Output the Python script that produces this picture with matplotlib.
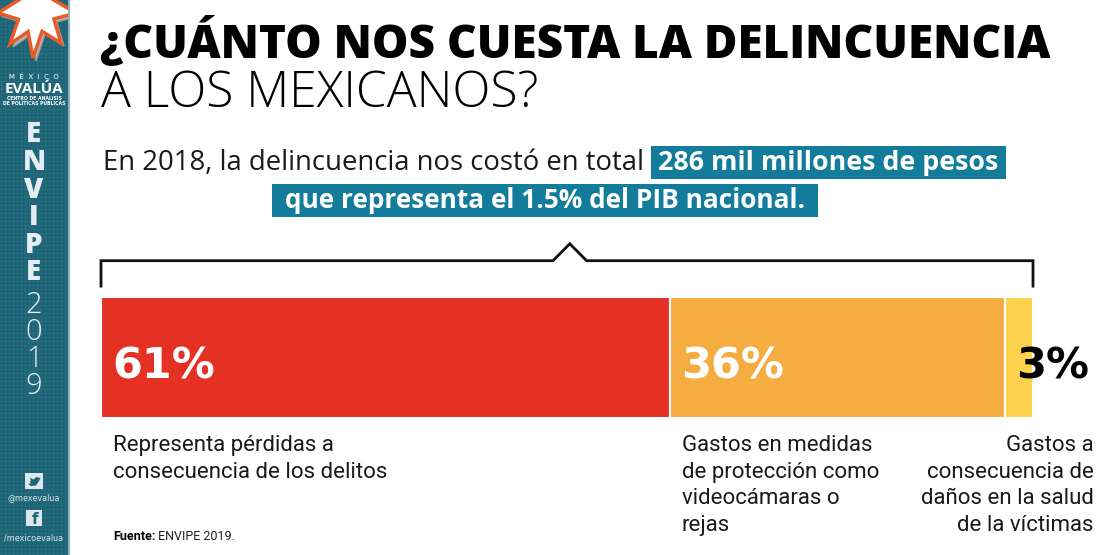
import matplotlib
matplotlib.use('Agg')
import matplotlib.pyplot as plt
import matplotlib.transforms as mtransforms
from matplotlib.patches import Rectangle, Polygon
import numpy as np

# ==========================
# Data
# ==========================
categories = ['Pérdidas por delitos', 'Medidas de protección', 'Daños a la salud']
shares = [61, 36, 3]
share_labels = ['61%', '36%', '3%']
descriptions = [
    'Representa pérdidas a\nconsecuencia de los delitos',
    'Gastos en medidas\nde protección como\nvideocámaras o\nrejas',
    'Gastos a\nconsecuencia de\ndaños en la salud\nde la víctimas',
]
bar_colors = ['#e53024', '#f5ad42', '#fcd24c']
label_colors = ['white', 'white', 'black']

title_1 = '¿CUÁNTO NOS CUESTA LA DELINCUENCIA'
title_2 = 'A LOS MEXICANOS?'
subtitle = 'En 2018, la delincuencia nos costó en total'
highlight_1 = '286 mil millones de pesos'
highlight_2 = 'que representa el 1.5% del PIB nacional.'
source_bold = 'Fuente:'
source_text = ' ENVIPE 2019.'

teal_side = '#1e6376'
teal_box = '#137c9b'

W, H = 1110, 555
fig = plt.figure(figsize=(W / 100, H / 100), dpi=100)
fig.set_facecolor('white')

# background axes in pixel coordinates (y grows downward)
bg = fig.add_axes([0, 0, 1, 1])
bg.set_xlim(0, W)
bg.set_ylim(H, 0)
bg.axis('off')

renderer = fig.canvas.get_renderer()


def fit_width(t, target):
    w = t.get_window_extent(renderer).width
    t.set_fontsize(t.get_fontsize() * target / w)


# ==========================
# Side bar
# ==========================
side_w = 68
pattern = np.zeros((H, side_w, 3))
pattern[:, :] = np.array([30, 99, 118]) / 255
pattern[1::4, :] = np.array([38, 108, 127]) / 255
pattern[:, 1::4] = np.array([38, 108, 127]) / 255
bg.imshow(pattern, extent=(0, side_w, H, 0), aspect='auto', zorder=1)
bg.plot([side_w + 0.5, side_w + 0.5], [0, H], color='#8db2bf', lw=1.5, zorder=2)

# star logo
cx, cy = 36, 8
tips = [(-2, 13), (10, 44), (33, 58), (61, 43), (76, 13), (58, -28), (14, -28)]
pts = []
for i, (tx, ty) in enumerate(tips):
    pts.append((tx, ty))
    nx, ny = tips[(i + 1) % len(tips)]
    mx, my = (tx + nx) / 2, (ty + ny) / 2
    pts.append((cx + (mx - cx) * 0.55, cy + (my - cy) * 0.55))
shadow = Polygon([(x + 3, y + 3) for x, y in pts], closed=True, fc='#b8b8b8', ec='#9a9a9a', lw=1, zorder=3)
star = Polygon(pts, closed=True, fc='white', ec='#ea5a24', lw=2.5, zorder=4)
clip = Rectangle((0, 0), side_w, 80, transform=bg.transData)
for p in (shadow, star):
    bg.add_patch(p)
    p.set_clip_path(clip)

bg.text(34, 77, 'M  É  X  I  C  O', color='white', fontsize=5, ha='center', va='center', zorder=5)
bg.text(34, 89, 'EVALÚA', color='white', fontsize=11, fontweight='bold', ha='center', va='center',
        family='Open Sans', zorder=5)
bg.text(34, 98, 'CENTRO DE ANÁLISIS', color='white', fontsize=3.3, fontweight='bold', ha='center',
        va='center', zorder=5)
bg.text(34, 103, 'DE POLÍTICAS PÚBLICAS', color='white', fontsize=3.3, fontweight='bold', ha='center',
        va='center', zorder=5)

side_letters = ['E', 'N', 'V', 'I', 'P', 'E']
for i, ch in enumerate(side_letters):
    bg.text(34, 135 + i * 27.6, ch, color='#e4eef2', fontsize=20, fontweight='heavy', ha='center',
            va='center', family='Open Sans', zorder=5)
for i, ch in enumerate('2019'):
    bg.text(34, 305 + i * 27, ch, color='#e4eef2', fontsize=21, fontweight='light', ha='center',
            va='center', family='Open Sans', zorder=5)

# twitter / facebook badges
bg.add_patch(Rectangle((25, 473), 18, 16, fc='#dce8ec', ec='none', zorder=5))
bird = [(28, 484), (31, 486), (36, 485.5), (39, 481), (40.5, 478), (38.5, 477.5), (36, 477),
        (34, 479.5), (30, 478), (31, 481), (29.5, 481.5), (31, 483.5)]
bg.add_patch(Polygon(bird, closed=True, fc=teal_side, ec='none', zorder=6))
bg.text(34, 498, '@mexevalua', color='#dce8ec', fontsize=5.8, ha='center', va='center', zorder=5)
bg.add_patch(Rectangle((26, 510), 16, 16, fc='#dce8ec', ec='none', zorder=5))
bg.text(35, 519, 'f', color=teal_side, fontsize=11, fontweight='bold', ha='center', va='center', zorder=6)
bg.text(34, 538, '/mexicoevalua', color='#dce8ec', fontsize=5.8, ha='center', va='center', zorder=5)

# ==========================
# Titles
# ==========================
t1 = bg.text(100, 58, title_1, fontsize=30, fontweight='heavy', family='Open Sans', color='black',
             va='baseline', ha='left')
fit_width(t1, 950)
t2 = bg.text(101, 107, title_2, fontsize=30, fontweight='light', family='Open Sans', color='black',
             va='baseline', ha='left')
fit_width(t2, 438)

st = bg.text(103, 170, subtitle, fontsize=15, family='Open Sans', color='#1a1a1a', va='baseline', ha='left')
fit_width(st, 542)

bg.add_patch(Rectangle((651, 146), 355, 33, fc=teal_box, ec='none'))
h1 = bg.text(828, 170, highlight_1, fontsize=16, fontweight='bold', family='Open Sans', color='white',
             va='baseline', ha='center')
fit_width(h1, 340)
bg.add_patch(Rectangle((272, 184), 546, 33, fc=teal_box, ec='none'))
h2 = bg.text(545, 208, highlight_2, fontsize=16, fontweight='bold', family='Open Sans', color='white',
             va='baseline', ha='center')
fit_width(h2, 521)

# ==========================
# Stacked bar
# ==========================
bar_left, bar_right, bar_top, bar_bottom = 101, 1033, 297, 418
ax = fig.add_axes([bar_left / W, 1 - bar_bottom / H, (bar_right - bar_left) / W, (bar_bottom - bar_top) / H])
ax.set_xlim(0, 100)
ax.set_ylim(-0.5, 0.5)
ax.axis('off')

lefts = np.concatenate([[0], np.cumsum(shares)[:-1]])
ax.barh(0, shares, left=lefts, height=1, color=bar_colors, edgecolor='white', linewidth=1.5)

for left, lab, col in zip(lefts, share_labels, label_colors):
    ax.text(left + 1.2, 0.33, lab, transform=ax.get_xaxis_transform(), color=col, fontsize=31,
            fontweight='bold', family='DejaVu Sans', va='baseline', ha='left', clip_on=False)

desc_x = [lefts[0] + 1.3, lefts[1] + 1.3, 106.5]
desc_ha = ['left', 'left', 'right']
for x, txt, ha in zip(desc_x, descriptions, desc_ha):
    ax.text(x, -0.14, txt, transform=ax.get_xaxis_transform(), color='#1a1a1a', fontsize=16,
            family='Roboto', va='top', ha=ha, multialignment=ha, linespacing=1.36, clip_on=False)

# bracket over the whole bar
tr = mtransforms.blended_transform_factory(ax.transData, ax.transAxes)
peak = 50.3
bx = [0, 0, peak - 1.8, peak, peak + 1.8, 100, 100]
by = [1.09, 1.30, 1.30, 1.44, 1.30, 1.30, 1.09]
ax.plot(bx, by, color='#111111', lw=2, transform=tr, clip_on=False, solid_joinstyle='miter')

# source
fs = bg.text(113, 540, source_bold, fontsize=9, fontweight='bold', family='Roboto',
             color='black', va='baseline', ha='left')
bg.annotate(source_text, xy=(1, 0), xycoords=fs, fontsize=9, family='Roboto', color='#222222',
            va='bottom', ha='left')

fig.savefig('out.png', dpi=100, facecolor='white')
